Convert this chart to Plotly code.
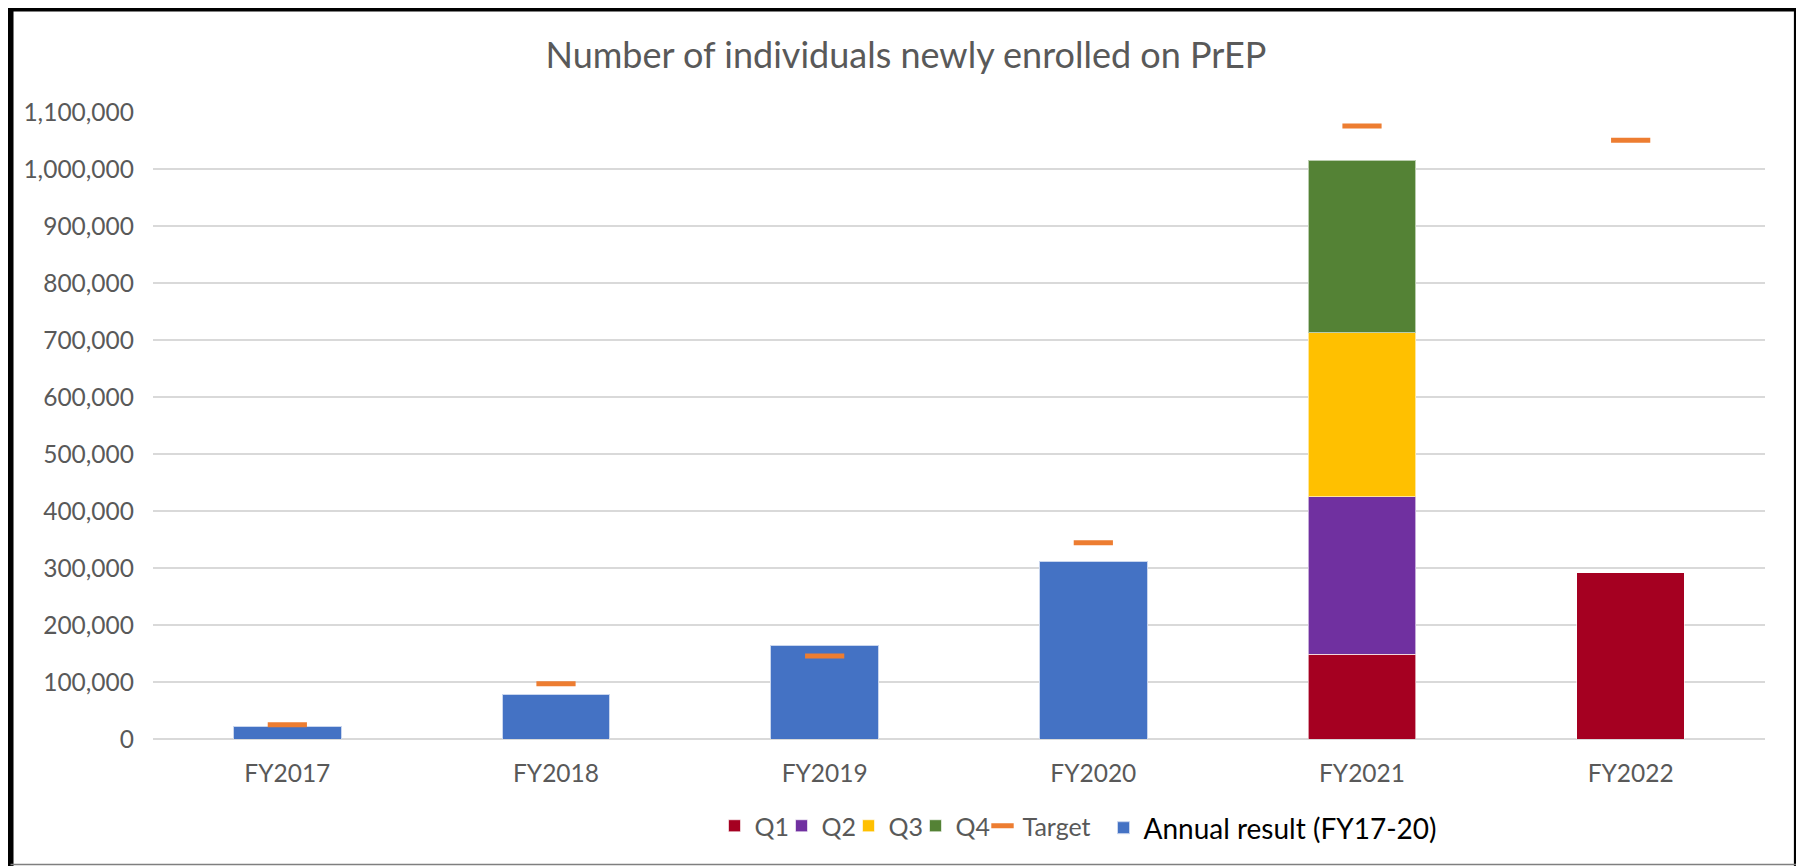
import plotly.graph_objects as go

# page has an 8px body margin, so the figure is 8px smaller each way
W, H = 1796, 858
FONT = "Lato"
GREY = "#595959"

years = ["FY2017", "FY2018", "FY2019", "FY2020", "FY2021", "FY2022"]
annual = [22300, 78900, 163700, 311600, None, None]
q1 = [None, None, None, None, 149000, 291600]
q2 = [None, None, None, None, 276000, None]
q3 = [None, None, None, None, 288000, None]
q4 = [None, None, None, None, 302000, None]
target = [25000, 97000, 145600, 344400, 1075500, 1050500]
y_ticks = list(range(0, 1100001, 100000))

# plot area in figure pixels
L, R, T, B = 144.5, 1756.6, 103.6, 731.3


def px_x(x):
    return (x - L) / (R - L)


def px_y(y):
    return (B - y) / (B - T)


fig = go.Figure()

fig.add_trace(go.Bar(x=years, y=annual, name="Annual result (FY17-20)",
                     marker=dict(color="#4472C4", line=dict(color="#C9D6EE", width=1)),
                     legend="legend2"))
for name, vals, col in [("Q1", q1, "#A50021"), ("Q2", q2, "#7030A0"),
                        ("Q3", q3, "#FFC000"), ("Q4", q4, "#548235")]:
    fig.add_trace(go.Bar(x=years, y=vals, name=name,
                         marker=dict(color=col, line=dict(color="rgba(255,255,255,0.6)", width=1))))

fig.add_trace(go.Scatter(x=years, y=target, name="Target", mode="markers",
                         legendwidth=90,
                         marker=dict(symbol="line-ew", size=28,
                                     line=dict(color="#ED7D31", width=5))))

# outer frame
fig.add_shape(type="path", xref="paper", yref="paper",
              path=f"M{px_x(2)},{px_y(860)} L{px_x(2)},{px_y(0)} "
                   f"L{px_x(1788.5)},{px_y(0)} L{px_x(1788.5)},{px_y(860)}",
              line=dict(color="black", width=6))
fig.add_shape(type="line", xref="paper", yref="paper",
              x0=px_x(2), x1=px_x(1788.5), y0=px_y(857), y1=px_y(857),
              line=dict(color="#7f7f7f", width=1.5))

fig.update_layout(
    width=W, height=H,
    barmode="stack", bargap=0.6,
    paper_bgcolor="white", plot_bgcolor="white",
    margin=dict(l=L, r=W - R, t=T, b=H - B, pad=0),
    font=dict(family=FONT, color=GREY, size=24.5),
    title=dict(text="Number of individuals newly enrolled on PrEP",
               x=0.5, xref="container", xanchor="center",
               y=1 - 47 / H, yref="container", yanchor="middle",
               font=dict(family=FONT, size=36, color=GREY)),
    legend=dict(orientation="h", traceorder="normal",
                entrywidthmode="pixels", entrywidth=22,
                x=706.5 / W, xref="container", xanchor="left",
                y=1 - 818 / H, yref="container", yanchor="middle",
                font=dict(size=25, color=GREY), bgcolor="rgba(0,0,0,0)"),
    legend2=dict(orientation="h",
                 x=1095.5 / W, xref="container", xanchor="left",
                 y=1 - 820 / H, yref="container", yanchor="middle",
                 font=dict(size=28, color="black"), bgcolor="rgba(0,0,0,0)"),
    showlegend=True,
)
fig.update_xaxes(showgrid=False, showline=False, ticks="",
                 ticklabelstandoff=17, tickfont=dict(size=24.5, color=GREY))
fig.update_yaxes(range=[0, 1100000], tickvals=y_ticks, tickformat=",d",
                 showgrid=True, gridcolor="#D9D9D9", gridwidth=2,
                 zeroline=True, zerolinecolor="#D9D9D9", zerolinewidth=2,
                 showline=False, ticks="", ticklabelstandoff=18,
                 tickfont=dict(size=24.5, color=GREY))

fig.write_html("out.html")
